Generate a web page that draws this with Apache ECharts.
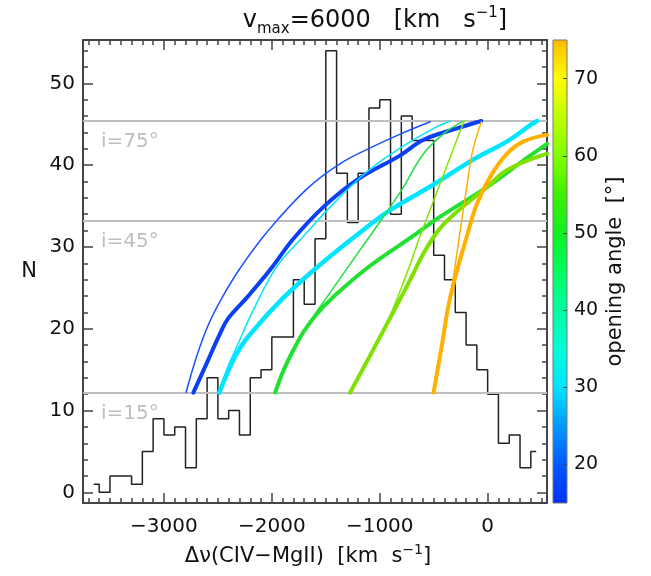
<!DOCTYPE html>
<html><head><meta charset="utf-8">
<script src="https://cdn.jsdelivr.net/npm/echarts@6/dist/echarts.min.js"></script>
<style>html,body{margin:0;padding:0;background:#fff}#c{width:651px;height:576px}</style>
</head><body><div id="c"></div>
<script>
// ---------------- data ----------------
const histCenters = [-3650,-3550,-3450,-3350,-3250,-3150,-3050,-2950,-2850,-2750,-2650,-2550,-2450,-2350,-2250,-2150,-2050,-1950,-1850,-1750,-1650,-1550,-1450,-1350,-1250,-1150,-1050,-950,-850,-750,-650,-550,-450,-350,-250,-150,-50,50,150,250,350,450];
const histCounts  = [1,0,2,2,1,5,9,7,8,3,9,14,9,10,7,14,15,19,19,26,23,31,54,39,33,39,47,48,34,46,43,43,29,26,22,18,15,12,6,7,3,5];

const inclValues = [45.4, 33.2, 12.2];
const inclLabels = ['i=75\u00b0', 'i=45\u00b0', 'i=15\u00b0'];

const blueThin    = [[-2795,12.2],[-2702,16.4],[-2591,20.4],[-2461,23.8],[-2294,27.4],[-2046,31.8],[-1675,37.1],[-1366,40.2],[-1058,42.3],[-810,43.8],[-532,45.3]];
const blueThick   = [[-2727,12.2],[-2603,15.8],[-2480,19.4],[-2403,21.3],[-2232,23.8],[-2016,27.2],[-1800,31.0],[-1521,34.9],[-1211,38.2],[-810,41.2],[-594,43.1],[-284,44.5],[-60,45.4]];
const cyanThin    = [[-2495,12.2],[-2400,15.6],[-2325,17.8],[-2171,22.3],[-1954,27.6],[-1707,31.3],[-1429,35.3],[-1119,39.2],[-810,42.1],[-501,44.5],[-346,45.4]];
const cyanThick   = [[-2486,12.2],[-2325,17.0],[-2170,19.8],[-1892,23.8],[-1583,27.5],[-1150,32.1],[-903,34.5],[-504,37.6],[-130,40.7],[180,42.9],[396,44.9],[458,45.4]];
const greenThin   = [[-1969,12.2],[-1892,14.9],[-1800,17.4],[-1707,19.7],[-1429,25.0],[-1104,31.1],[-810,36.7],[-594,41.4],[-393,44.0],[-237,45.3]];
const greenThick  = [[-1969,12.2],[-1892,14.9],[-1800,17.4],[-1707,19.6],[-1583,21.8],[-1429,23.9],[-1119,27.4],[-717,31.1],[-439,33.7],[25,37.6],[334,40.6],[551,42.6]];
const ygThin      = [[-1274,12.2],[-965,19.8],[-748,26.8],[-624,31.4],[-439,37.8],[-253,44.2],[-216,45.4]];
const ygThick     = [[-1274,12.2],[-965,19.8],[-717,26.0],[-578,29.6],[-439,32.3],[-284,34.3],[-6,37.3],[180,39.4],[551,41.4]];
const orangeThin  = [[-501,12.2],[-424,18.0],[-346,23.9],[-253,32.1],[-207,36.2],[-145,41.4],[-105,43.4],[-58,45.3]];
const orangeThick = [[-501,12.2],[-424,18.0],[-346,23.9],[-184,31.7],[-98,35.3],[25,38.6],[180,41.4],[334,42.9],[551,43.7]];

const xMajor = [-3000,-2000,-1000,0];
const yMajor = [0,10,20,30,40,50];
const cbMajor = [20,30,40,50,60,70];
const cbStops = [[15,'#0030f8'],[20,'#0058ff'],[25,'#0098ff'],[30,'#00e4ff'],[35,'#00ffd8'],[40,'#00ffa0'],[45,'#00ff60'],[50,'#10f020'],[55,'#40f000'],[60,'#80ff00'],[65,'#c0ff00'],[70,'#ffff00'],[75,'#ffb800']];

// ---------------- layout ----------------
const FONT = 'DejaVu Sans';
const AX = '#444';
const XMIN = -3750, XMAX = 550, YMIN = -1.3, YMAX = 55.3;
const xMinor = []; for (let v = -3700; v <= 500; v += 100) xMinor.push(v);
const yMinor = []; for (let v = 0; v <= 54; v += 2) yMinor.push(v);
const minus = v => v < 0 ? '\u2212' + Math.abs(v) : String(v);

function xAxisDef(pos, ticks, len, withLabels, withLine) {
  return {
    gridIndex: 0, type: 'value', min: XMIN, max: XMAX, position: pos,
    axisLine: {show: withLine, onZero: false, lineStyle: {color: AX, width: 2}},
    axisTick: {show: true, inside: true, length: len, customValues: ticks, lineStyle: {color: AX, width: 1.5}},
    axisLabel: withLabels ? {show: true, customValues: xMajor, formatter: minus, margin: 14, color: '#111', fontSize: 20, fontFamily: FONT} : {show: false},
    splitLine: {show: false}
  };
}
function yAxisDef(pos, ticks, len, withLabels, withLine) {
  return {
    gridIndex: 0, type: 'value', min: YMIN, max: YMAX, position: pos,
    axisLine: {show: withLine, onZero: false, lineStyle: {color: AX, width: 2}},
    axisTick: {show: true, inside: true, length: len, customValues: ticks, lineStyle: {color: AX, width: 1.5}},
    axisLabel: withLabels ? {show: true, customValues: yMajor, margin: 8, color: '#111', fontSize: 20, fontFamily: FONT} : {show: false},
    splitLine: {show: false}
  };
}

const xAxes = [
  xAxisDef('bottom', xMajor, 10, true, true),
  xAxisDef('bottom', xMinor, 5, false, false),
  xAxisDef('top', xMajor, 10, false, true),
  xAxisDef('top', xMinor, 5, false, false),
  {gridIndex: 1, type: 'value', min: 0, max: 1, show: false}
];
Object.assign(xAxes[0], {
  name: '{a|\u0394\u03bd(CIV\u2212MgII)  [km  s}{s|\u22121}{a|]}',
  nameLocation: 'middle', nameGap: 40,
  nameTextStyle: {padding: [0, 14, 0, 0], rich: {
    a: {fontSize: 21, fontFamily: FONT, color: '#111', lineHeight: 24, verticalAlign: 'bottom'},
    s: {fontSize: 14, fontFamily: FONT, color: '#111', lineHeight: 14, verticalAlign: 'top'}
  }}
});
const yAxes = [
  yAxisDef('left', yMajor, 10, true, true),
  yAxisDef('left', yMinor, 5, false, false),
  yAxisDef('right', yMajor, 10, false, true),
  yAxisDef('right', yMinor, 5, false, false),
  {gridIndex: 1, type: 'value', min: 15, max: 75, position: 'right', z: 10,
   axisLine: {show: false, onZero: false},
   axisTick: {show: true, inside: true, length: 4, customValues: cbMajor, lineStyle: {color: AX, width: 1}},
   axisLabel: {show: true, customValues: cbMajor, margin: 7, color: '#111', fontSize: 19, fontFamily: FONT},
   splitLine: {show: false},
   name: 'opening angle  [\u00b0]', nameLocation: 'middle', nameRotate: 90, nameGap: 38,
   nameTextStyle: {fontSize: 21, fontFamily: FONT, color: '#111'}}
];
Object.assign(yAxes[0], {
  name: 'N', nameLocation: 'middle', nameRotate: 0, nameGap: 46,
  nameTextStyle: {fontSize: 21, fontFamily: FONT, color: '#111'}
});

function curve(name, data, color, width) {
  return {name, type: 'line', data, xAxisIndex: 0, yAxisIndex: 0, symbol: 'none',
    smooth: 0.4, clip: true,
    lineStyle: {color, width, cap: 'round', join: 'round'}, z: 5};
}

const option = {
  animation: false,
  backgroundColor: '#fff',
  grid: [
    {left: 83, top: 40, width: 464, height: 463, containLabel: false},
    {left: 553, top: 40, width: 14, height: 463, containLabel: false}
  ],
  xAxis: xAxes,
  yAxis: yAxes,
  graphic: [
    {type: 'rect', z: 1, shape: {x: 553, y: 40, width: 14, height: 463},
     style: {fill: new echarts.graphic.LinearGradient(0, 1, 0, 0,
        cbStops.map(s => ({offset: (s[0] - 15) / 60, color: s[1]}))),
        stroke: '#777', lineWidth: 1}},
    {type: 'text', x: 375, y: 19, z: 10,
     style: {text: '{a|v}{b|max}{a|=6000   [km   s}{s|\u22121}{a|]}', align: 'center', verticalAlign: 'middle',
       rich: {
         a: {fontSize: 24, fontFamily: FONT, fill: '#111', lineHeight: 27, verticalAlign: 'bottom'},
         b: {fontSize: 15, fontFamily: FONT, fill: '#111', lineHeight: 15, verticalAlign: 'bottom', padding: [0, 0, -4, 0]},
         s: {fontSize: 15, fontFamily: FONT, fill: '#111', lineHeight: 15, verticalAlign: 'top'}
       }}}
  ],
  series: [
    {name: 'histogram', type: 'line', step: 'middle', xAxisIndex: 0, yAxisIndex: 0, symbol: 'none',
     data: histCenters.map((c, i) => [c, histCounts[i]]),
     lineStyle: {color: '#222', width: 1.5}, z: 2,
     markLine: {silent: true, symbol: ['none', 'none'], animation: false,
       lineStyle: {color: '#bebebe', width: 2, type: 'solid'},
       label: {show: true, position: 'insideStartBottom', formatter: '{b}', color: '#bebebe',
               fontSize: 20, fontFamily: FONT, distance: [18, 11]},
       emphasis: {disabled: true},
       data: inclValues.map((v, i) => ({name: inclLabels[i], yAxis: v}))}},
    curve('blueThin', blueThin, '#1a52ff', 1.5),
    curve('blueThick', blueThick, '#0a40f5', 4),
    curve('cyanThin', cyanThin, '#00e6ff', 1.5),
    curve('cyanThick', cyanThick, '#00e6ff', 4.5),
    curve('greenThin', greenThin, '#20e040', 1.5),
    curve('greenThick', greenThick, '#20e030', 4),
    curve('ygThin', ygThin, '#80e800', 1.5),
    curve('ygThick', ygThick, '#80e000', 4),
    curve('orangeThin', orangeThin, '#ffb000', 1.5),
    curve('orangeThick', orangeThick, '#ffb000', 4)
  ]
};
const chart = echarts.init(document.getElementById('c'), null, {renderer: 'canvas'});
chart.setOption(option);
</script></body></html>
